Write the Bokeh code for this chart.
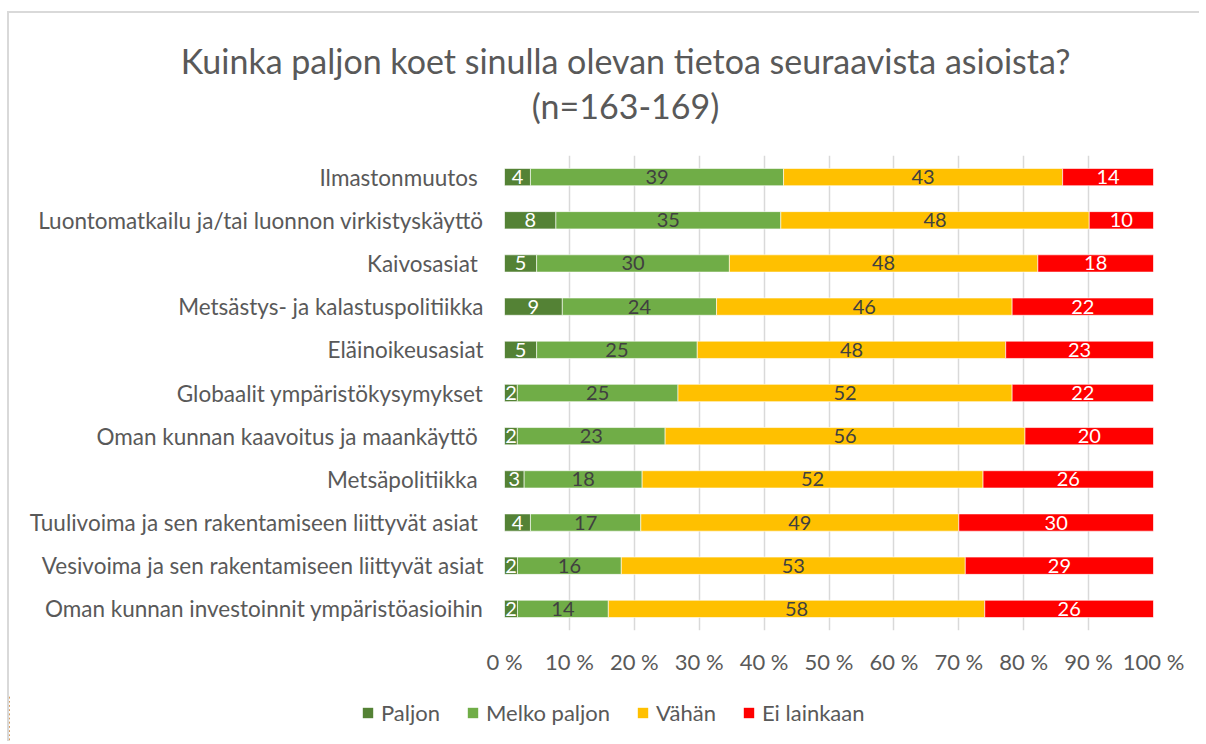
from bokeh.plotting import figure
from bokeh.layouts import column
from bokeh.models import (ColumnDataSource, FactorRange, Range1d, FixedTicker, Label,
                          Legend, LegendItem)
from bokeh.core.properties import value
from bokeh.embed import file_html
from bokeh.resources import INLINE

categories = [
    "Ilmastonmuutos ",
    "Luontomatkailu ja/tai luonnon virkistyskäyttö",
    "Kaivosasiat ",
    "Metsästys- ja kalastuspolitiikka",
    "Eläinoikeusasiat",
    "Globaalit ympäristökysymykset",
    "Oman kunnan kaavoitus ja maankäyttö ",
    "Metsäpolitiikka ",
    "Tuulivoima ja sen rakentamiseen liittyvät asiat ",
    "Vesivoima ja sen rakentamiseen liittyvät asiat",
    "Oman kunnan investoinnit ympäristöasioihin",
]
paljon = [4, 8, 5, 9, 5, 2, 2, 3, 4, 2, 2]
melko_paljon = [39, 35, 30, 24, 25, 25, 23, 18, 17, 16, 14]
vahan = [43, 48, 48, 46, 48, 52, 56, 52, 49, 53, 58]
ei_lainkaan = [14, 10, 18, 22, 23, 22, 20, 26, 30, 29, 26]

series_names = ["Paljon", "Melko paljon", "Vähän", "Ei lainkaan"]
series_values = [paljon, melko_paljon, vahan, ei_lainkaan]
colors = ["#548235", "#70AD47", "#FFC000", "#FF0000"]
label_colors = ["#FFFFFF", "#404040", "#404040", "#FFFFFF"]

tick_values = [0, 10, 20, 30, 40, 50, 60, 70, 80, 90, 100]
tick_labels = ["0 %", "10 %", "20 %", "30 %", "40 %", "50 %", "60 %", "70 %", "80 %", "90 %", "100 %"]

title_line1 = "Kuinka paljon koet sinulla olevan tietoa seuraavista asioista?"
title_line2 = "(n=163-169)"

FONT = "Lato"
TXT = "#595959"
W = 1190
OX, OY = 9, 13  # page position of the layout content (after margin + border)


def blank(fig):
    fig.axis.visible = False
    fig.grid.visible = False
    fig.outline_line_color = None
    fig.background_fill_color = "white"
    fig.border_fill_color = "white"


# ---------- title strip ----------
H_TOP = 134
top = figure(width=W, height=H_TOP, output_backend="svg", toolbar_location=None,
             x_range=Range1d(OX, OX + W), y_range=Range1d(OY + H_TOP, OY),
             min_border=0, frame_align=False)
blank(top)
for txt, yy in [(title_line1, 60), (title_line2, 105)]:
    top.add_layout(Label(x=625, y=yy, text=txt, text_align="center",
                         text_baseline="alphabetic", text_font=FONT,
                         text_font_size="34px", text_color=TXT))

# ---------- main chart ----------
H_MAIN = 548
p = figure(width=W, height=H_MAIN, output_backend="svg", toolbar_location=None,
           y_range=FactorRange(factors=categories[::-1]), x_range=Range1d(0, 100),
           min_border_left=504 - OX, min_border_right=OX + W - 1153,
           min_border_top=155 - (OY + H_TOP), min_border_bottom=(OY + H_TOP + H_MAIN) - 630,
           frame_align=False)
p.title.visible = False
p.outline_line_color = None
p.background_fill_color = "white"
p.border_fill_color = "white"

totals = [sum(v[i] for v in series_values) for i in range(len(categories))]
lefts = [0.0] * len(categories)
sources = []
for name, vals, col, lcol in zip(series_names, series_values, colors, label_colors):
    pct = [v / t * 100 for v, t in zip(vals, totals)]
    rights = [l + w for l, w in zip(lefts, pct)]
    mids = [(l + r) / 2 for l, r in zip(lefts, rights)]
    src = ColumnDataSource(dict(y=categories, left=lefts, right=rights, mid=mids,
                                lab=[str(v) for v in vals]))
    sources.append(src)
    p.hbar(y="y", left="left", right="right", height=0.4, source=src,
           fill_color=col, line_color="white", line_width=0.6)
    p.text(x="mid", y="y", text="lab", source=src, text_align="center",
           text_baseline="middle", text_color=lcol, text_font=value(FONT),
           text_font_size="20px")
    lefts = rights

p.xaxis.ticker = FixedTicker(ticks=tick_values)
p.xaxis.major_label_overrides = {t: l for t, l in zip(tick_values, tick_labels)}
p.xaxis.axis_line_color = None
p.xaxis.major_tick_line_color = None
p.xaxis.minor_tick_line_color = None
p.xaxis.major_tick_out = 0
p.xaxis.major_label_standoff = 17
p.xaxis.major_label_text_font = FONT
p.xaxis.major_label_text_font_size = "22px"
p.xaxis.major_label_text_color = TXT

p.yaxis.axis_line_color = None
p.yaxis.major_tick_line_color = None
p.yaxis.minor_tick_line_color = None
p.yaxis.major_tick_out = 0
p.yaxis.major_label_standoff = 21
p.yaxis.major_label_text_font = FONT
p.yaxis.major_label_text_font_size = "22.5px"
p.yaxis.major_label_text_color = TXT

p.ygrid.grid_line_color = None
p.xgrid.grid_line_color = "#D9D9D9"
p.xgrid.grid_line_width = 1.5

# ---------- legend strip ----------
H_LEG = 46
leg = figure(width=W, height=H_LEG, output_backend="svg", toolbar_location=None,
             x_range=Range1d(1000, 1001), y_range=FactorRange(factors=categories[::-1]),
             min_border=0, frame_align=False)
blank(leg)
items = []
for name, col, src in zip(series_names, colors, sources):
    # same data as the main chart; bars lie outside this strip's x range, only the legend shows
    r = leg.hbar(y="y", left="left", right="right", height=0.4, source=src,
                 fill_color=col, line_color=None)
    items.append(LegendItem(label=name, renderers=[r]))
legend = Legend(items=items, location=(361 - OX, (OY + H_TOP + H_MAIN + H_LEG) - 726),
                orientation="horizontal",
                glyph_width=13, glyph_height=13, label_standoff=7, spacing=26,
                padding=0, margin=0, border_line_color=None,
                background_fill_alpha=0, label_text_font=FONT,
                label_text_font_size="22px", label_text_color=TXT)
leg.add_layout(legend)

layout = column(top, p, leg, spacing=0,
                styles={"margin-left": "7px", "margin-top": "11px",
                        "border-top": "2px solid #D9D9D9",
                        "border-left": "2px solid #D9D9D9"})

open("out.html", "w").write(file_html(layout, INLINE))
